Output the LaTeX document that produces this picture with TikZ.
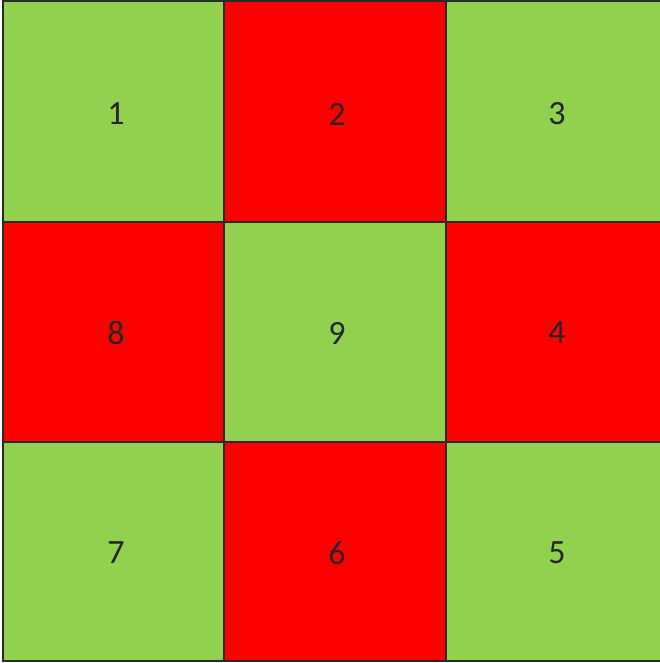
\documentclass[tikz,border=0pt]{standalone}
\usepackage{fontspec}
\setmainfont{Carlito}
\definecolor{cgreen}{HTML}{92D050}
\definecolor{cred}{HTML}{FF0000}
\definecolor{cline}{HTML}{2A2A2A}
\tikzset{
  cell/.style={draw=cline, line width=1.3pt, minimum width=#1, inner sep=0pt, outer sep=0pt},
  lbl/.style={font=\fontsize{34}{40}\selectfont, text=black!85}
}
\begin{document}
\begin{tikzpicture}[x=1pt,y=-1pt]
\useasboundingbox (0,0) rectangle (660,663);
% green cells
\foreach \xa/\ya/\xb/\yb/\c in {3/1/224/222/cgreen, 224/1/446/222/cred, 446/1/662/222/cgreen,
  3/222/224/442/cred, 224/222/446/442/cgreen, 446/222/662/442/cred,
  3/442/224/661/cgreen, 224/442/446/661/cred, 446/442/662/661/cgreen}
  \filldraw[fill=\c, draw=cline, line width=1.3pt] (\xa,\ya) rectangle (\xb,\yb);
\node[lbl] (n1) at (116,114) {1};
\node[lbl] (n2) at (337,114) {2};
\node[lbl] (n3) at (557,114) {3};
\node[lbl] (n8) at (116,333) {8};
\node[lbl] (n9) at (337,333) {9};
\node[lbl] (n4) at (557,333) {4};
\node[lbl] (n7) at (116,553) {7};
\node[lbl] (n6) at (337,553) {6};
\node[lbl] (n5) at (557,553) {5};
\end{tikzpicture}
\end{document}
